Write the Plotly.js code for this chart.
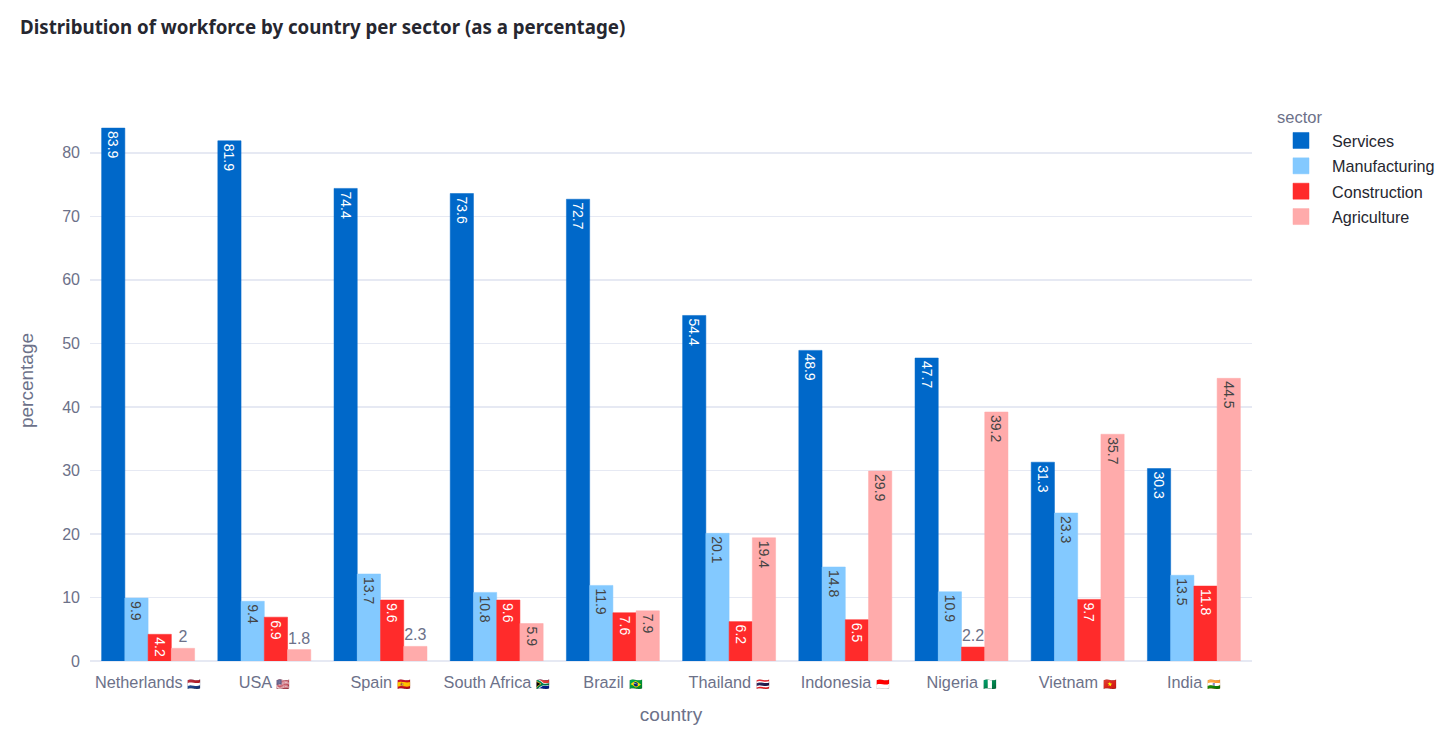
<!DOCTYPE html>
<html><head><meta charset="utf-8">
<script src="https://cdn.plot.ly/plotly-3.0.1.min.js"></script>
<style>html,body{margin:0;padding:0;background:#fff}</style></head>
<body><div id="chart" style="width:1456px;height:749px"></div>
<script>
const countries = ["Netherlands","USA","Spain","South Africa","Brazil","Thailand","Indonesia","Nigeria","Vietnam","India"];
const flags = ["🇳🇱","🇺🇸","🇪🇸","🇿🇦","🇧🇷","🇹🇭","🇮🇩","🇳🇬","🇻🇳","🇮🇳"];
const services = [83.9,81.9,74.4,73.6,72.7,54.4,48.9,47.7,31.3,30.3];
const manufacturing = [9.9,9.4,13.7,10.8,11.9,20.1,14.8,10.9,23.3,13.5];
const construction = [4.2,6.9,9.6,9.6,7.6,6.2,6.5,2.2,9.7,11.8];
const agriculture = [2,1.8,2.3,5.9,7.9,19.4,29.9,39.2,35.7,44.5];
const sectors = ["Services","Manufacturing","Construction","Agriculture"];
const colors = ["#0068C9","#83C9FF","#FF2B2B","#FFABAB"];
const values = [services,manufacturing,construction,agriculture];
const grey = "#6c7189";
const traces = sectors.map((s,i)=>({
  type:"bar",name:s,x:countries,y:values[i],text:values[i].map(String),
  legendgroup:s,
  textposition:"auto",cliponaxis:false,
  insidetextfont:{size:14},
  outsidetextfont:{size:16,color:grey},
  marker:{color:colors[i],line:{color:colors[i],width:0.5}}
}));
const plotL=89.5, plotR=1252, plotT=100, plotB=661;
const layout = {
  width:1456,height:749,barmode:"group",bargap:0.2,bargroupgap:0,
  paper_bgcolor:"#fff",plot_bgcolor:"#fff",
  font:{family:"'Liberation Sans',Arial,sans-serif",size:16,color:grey},
  margin:{l:plotL,r:1456-plotR,t:plotT,b:749-plotB,autoexpand:false},
  title:{text:"<b>Distribution of workforce by country per sector (as a percentage)</b>",
    x:20/1456,xanchor:"left",xref:"container",y:1-27/749,yanchor:"middle",yref:"container",
    font:{family:"'Noto Sans',sans-serif",size:18.7,color:"#262730"}},
  xaxis:{title:{text:"country",font:{size:19,color:grey},standoff:17},type:"category",
    tickmode:"array",tickvals:countries,
    ticktext:countries.map((c,i)=>c+' <span style="font-size:11px">'+flags[i]+'</span>'),
    tickfont:{size:16.3,color:grey},ticklabelstandoff:10,
    showgrid:false,zeroline:false,automargin:false,ticks:""},
  yaxis:{title:{text:"percentage",font:{size:19,color:grey},standoff:23},range:[0,88.32],dtick:10,
    tickfont:{size:16,color:grey},ticklabelstandoff:9,
    gridcolor:"#e6e9f3",gridwidth:1.5,zeroline:true,zerolinecolor:"#e6e9f3",zerolinewidth:2,automargin:false},
  legend:{title:{text:"sector",font:{size:16.5,color:grey}},
    x:(1275-plotL)/(plotR-plotL),xanchor:"left",
    y:(plotB-102)/(plotB-plotT),yanchor:"top",bgcolor:"rgba(0,0,0,0)",
    font:{size:16.2,color:"#262730"},tracegroupgap:1.3,itemwidth:47,itemclick:false,itemdoubleclick:false}
};
Plotly.newPlot("chart",traces,layout,{displayModeBar:false,staticPlot:true}).then(gd=>{
  gd.querySelectorAll(".legend .legendpoints path").forEach(p=>{
    p.setAttribute("d","M5.5,8H-10.5V-8H5.5Z");
  });
});
</script></body></html>
